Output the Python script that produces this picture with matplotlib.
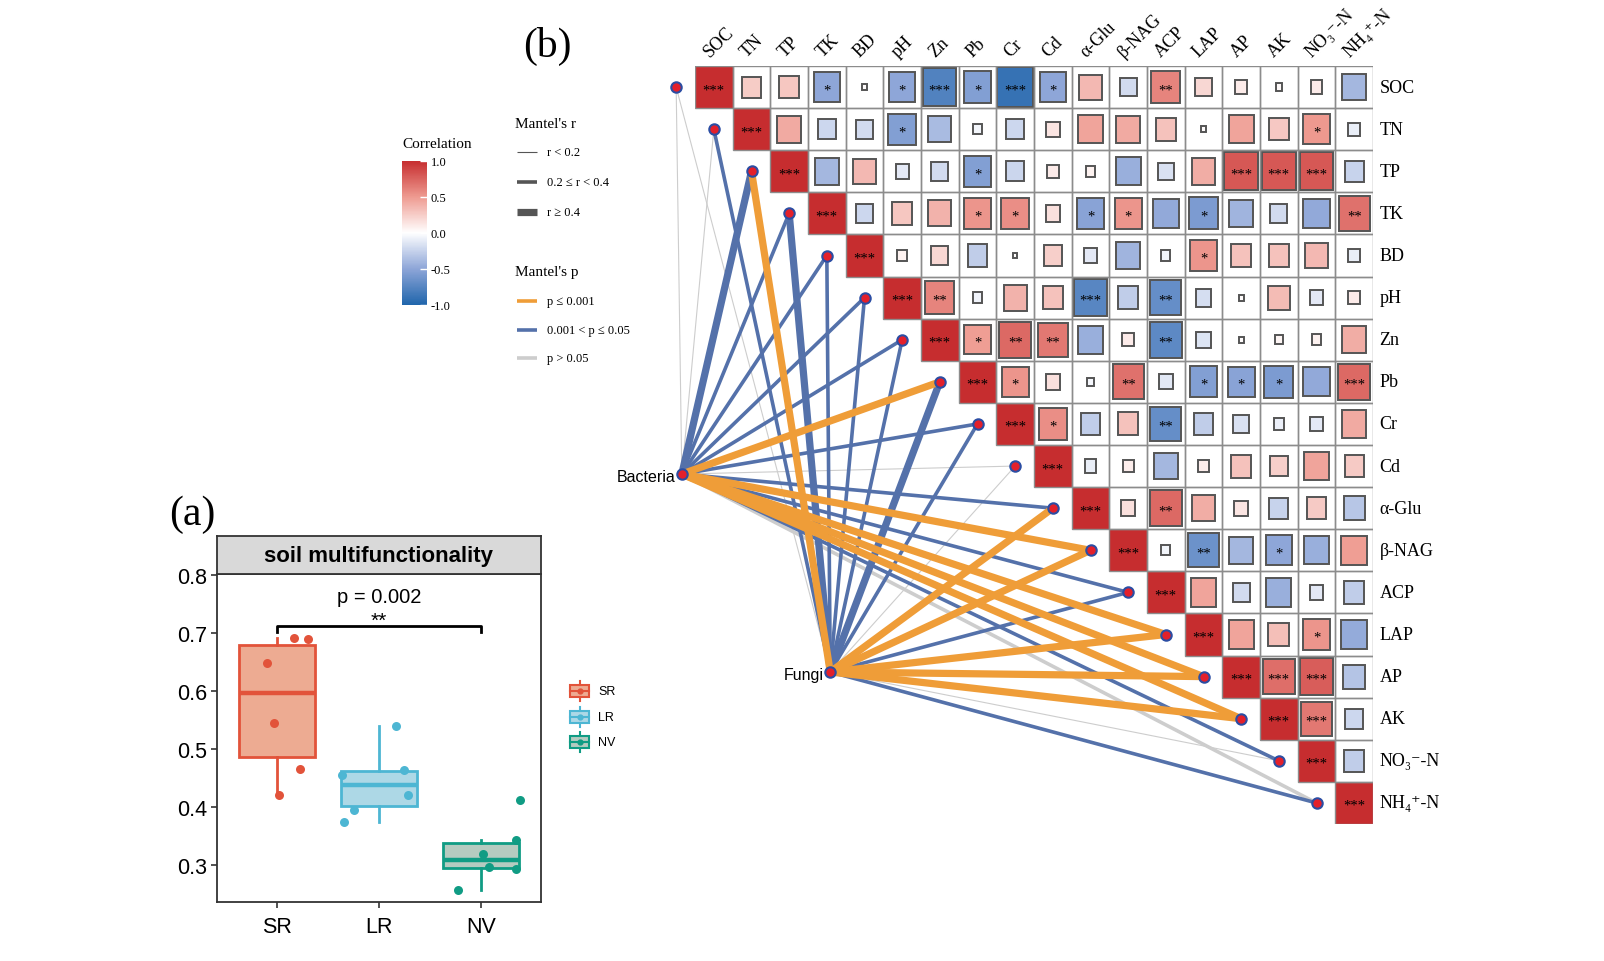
import numpy as np
import matplotlib.pyplot as plt
from matplotlib.patches import Rectangle
from matplotlib.colors import LinearSegmentedColormap, Normalize
from matplotlib.cm import ScalarMappable
from matplotlib.ticker import FormatStrFormatter

plt.rcParams['font.family'] = ['Liberation Serif', 'DejaVu Serif']
SANS = ['Liberation Sans', 'DejaVu Sans']

# ---------------- panel (a) data
groups = ['SR', 'LR', 'NV']
group_colors = ['#E2533A', '#4DB6D3', '#109C84']
group_fills = ['#EDAB92', '#ADD8E6', '#B5CBC0']
sr_vals = [0.648, 0.544, 0.691, 0.689, 0.466, 0.420]
lr_vals = [0.540, 0.455, 0.463, 0.421, 0.394, 0.374]
nv_vals = [0.412, 0.343, 0.318, 0.2965, 0.2925, 0.257]
# horizontal jitter of the points
sr_jit = [-0.10, -0.03, 0.17, 0.31, 0.23, 0.02]
lr_jit = [0.17, -0.36, 0.25, 0.29, -0.24, -0.34]
nv_jit = [0.38, 0.34, 0.02, 0.08, 0.34, -0.22]
p_label = 'p = 0.002'
sig_label = '**'

# ---------------- panel (b) data
variables = ['SOC', 'TN', 'TP', 'TK', 'BD', 'pH', 'Zn', 'Pb', 'Cr', 'Cd',
             'α-Glu', 'β-NAG', 'ACP', 'LAP', 'AP', 'AK', 'NO₃⁻-N', 'NH₄⁺-N']

# row i holds r of variable i with variables i+1 .. end
corr_rows = [
    [0.25, 0.28, -0.5, 0.02, -0.5, -0.78, -0.55, -0.9, -0.5, 0.35, -0.2, 0.6, 0.2, 0.1, 0.03, 0.1, -0.4],
    [0.42, -0.22, -0.2, -0.55, -0.38, -0.05, -0.22, 0.13, 0.45, 0.42, 0.3, 0.02, 0.45, 0.27, 0.5, -0.1],
    [-0.4, 0.35, -0.12, -0.2, -0.55, -0.23, 0.1, 0.07, -0.45, -0.17, 0.4, 0.8, 0.8, 0.8, -0.25],
    [-0.22, 0.28, 0.38, 0.52, 0.55, 0.15, -0.52, 0.52, -0.48, -0.58, -0.42, -0.2, -0.48, 0.68],
    [0.07, 0.2, -0.28, 0.01, 0.24, -0.12, -0.42, -0.06, 0.52, 0.3, 0.3, 0.35, -0.1],
    [0.6, -0.07, 0.38, 0.3, -0.75, -0.28, -0.68, -0.18, 0.02, 0.33, -0.12, 0.1],
    [0.48, 0.72, 0.65, -0.45, 0.1, -0.72, -0.15, 0.02, 0.05, 0.07, 0.4],
    [0.52, 0.15, -0.04, 0.68, -0.13, -0.55, -0.52, -0.58, -0.48, 0.72],
    [0.55, -0.28, 0.3, -0.68, -0.28, -0.17, -0.08, -0.12, 0.42],
    [-0.1, 0.09, -0.4, 0.09, 0.3, 0.24, 0.45, 0.26],
    [0.15, 0.72, 0.4, 0.13, -0.25, 0.26, -0.32],
    [-0.06, -0.65, -0.4, -0.5, -0.45, 0.48],
    [0.45, -0.2, -0.45, -0.12, -0.28],
    [0.45, 0.32, 0.52, -0.47],
    [0.7, 0.78, -0.33],
    [0.65, -0.22],
    [-0.28],
]
star_rows = [
    ['', '', '*', '', '*', '***', '*', '***', '*', '', '', '**', '', '', '', '', ''],
    ['', '', '', '*', '', '', '', '', '', '', '', '', '', '', '*', ''],
    ['', '', '', '', '*', '', '', '', '', '', '', '***', '***', '***', ''],
    ['', '', '', '*', '*', '', '*', '*', '', '*', '', '', '', '**'],
    ['', '', '', '', '', '', '', '', '*', '', '', '', ''],
    ['**', '', '', '', '***', '', '**', '', '', '', '', ''],
    ['*', '**', '**', '', '', '**', '', '', '', '', ''],
    ['*', '', '', '**', '', '*', '*', '*', '', '***'],
    ['*', '', '', '**', '', '', '', '', ''],
    ['', '', '', '', '', '', '', ''],
    ['', '**', '', '', '', '', ''],
    ['', '**', '', '*', '', ''],
    ['', '', '', '', ''],
    ['', '', '*', ''],
    ['***', '***', ''],
    ['***', ''],
    [''],
]

# Mantel test classes: r class 0 (<0.2), 1 (0.2-0.4), 2 (>=0.4)
#                      p class 0 (<=0.001), 1 (0.001-0.05), 2 (>0.05)
bact_r = [0, 0, 2, 1, 1, 1, 1, 2, 1, 0, 1, 2, 1, 2, 2, 2, 1, 1]
bact_p = [2, 2, 1, 1, 1, 1, 1, 0, 1, 2, 1, 0, 1, 0, 0, 0, 1, 2]
fungi_r = [0, 1, 2, 2, 1, 1, 1, 2, 1, 0, 2, 2, 1, 2, 2, 2, 0, 1]
fungi_p = [2, 1, 0, 1, 1, 1, 1, 1, 1, 2, 0, 0, 1, 0, 0, 0, 2, 1]
r_labels = ['r < 0.2', '0.2 ≤ r < 0.4', 'r ≥ 0.4']
p_labels = ['p ≤ 0.001', '0.001 < p ≤ 0.05', 'p > 0.05']

# styles
p_colors = ['#EF9D38', '#5471AA', '#CDCDCD']
r_widths = [0.8, 2.6, 5.2]
cmap = LinearSegmentedColormap.from_list(
    'rb', [(0, '#2166AC'), (0.25, '#8EA6D8'), (0.5, '#FFFFFF'), (0.75, '#EE9A90'), (1, '#C62D2F')])
norm = Normalize(-1, 1)

W, H = 1604, 962
fig = plt.figure(figsize=(16.04, 9.62), dpi=100)


def fig_box(x0, y0, x1, y1):
    return [x0 / W, 1 - y1 / H, (x1 - x0) / W, (y1 - y0) / H]


canvas = fig.add_axes([0, 0, 1, 1])
canvas.set_xlim(0, W)
canvas.set_ylim(H, 0)
canvas.axis('off')

# ================= panel (a)
ax_a = fig.add_axes(fig_box(216.7, 575, 541, 903.3))
data_a = [sr_vals, lr_vals, nv_vals]
jit_a = [sr_jit, lr_jit, nv_jit]
bp = ax_a.boxplot(data_a, positions=[1, 2, 3], widths=0.75, patch_artist=True,
                  showfliers=False, showcaps=False, whis=1.5)
for k, c in enumerate(group_colors):
    bp['boxes'][k].set(facecolor=group_fills[k], edgecolor=c, linewidth=2)
    bp['medians'][k].set(color=c, linewidth=3.2)
    for w in bp['whiskers'][2 * k:2 * k + 2]:
        w.set(color=c, linewidth=2)
    ax_a.scatter(np.array(jit_a[k]) + k + 1, data_a[k], s=42, color=c, zorder=3, linewidths=0)

ax_a.plot([1, 1, 3, 3], [0.702, 0.7125, 0.7125, 0.702], color='black', lw=2)
ax_a.text(2, 0.722, sig_label, ha='center', va='center', fontsize=15, family=SANS)
ax_a.text(2, 0.764, p_label, ha='center', va='center', fontsize=14.5, family=SANS)

ax_a.set_xlim(0.41, 3.59)
ax_a.set_ylim(0.235, 0.802)
ax_a.set_xticks([1, 2, 3])
ax_a.set_xticklabels(groups)
ax_a.set_yticks([0.3, 0.4, 0.5, 0.6, 0.7, 0.8])
ax_a.yaxis.set_major_formatter(FormatStrFormatter('%.1f'))
for lab in ax_a.get_xticklabels() + ax_a.get_yticklabels():
    lab.set_family(SANS)
    lab.set_fontsize(15.5)
ax_a.tick_params(length=4, width=1.2, color='#333333', pad=3)
ax_a.tick_params(axis='x', pad=6)
for sp in ax_a.spines.values():
    sp.set_color('#333333')
    sp.set_linewidth(1.3)

ax_s = fig.add_axes(fig_box(216.7, 537.3, 541, 575))
ax_s.set_facecolor('#D9D9D9')
ax_s.set_xticks([])
ax_s.set_yticks([])
for sp in ax_s.spines.values():
    sp.set_color('#333333')
    sp.set_linewidth(1.3)
ax_s.text(0.5, 0.5, 'soil multifunctionality', ha='center', va='center',
          fontsize=16, fontweight='bold', family=SANS, transform=ax_s.transAxes)

# legend of panel (a)
for k, (g, c) in enumerate(zip(groups, group_colors)):
    yc = 692 + 25.6 * k
    canvas.add_patch(Rectangle((570, yc - 6), 19, 12, facecolor=group_fills[k], edgecolor=c, lw=1.5))
    canvas.plot([579.5, 579.5], [yc - 10, yc - 6], color=c, lw=1.5)
    canvas.plot([579.5, 579.5], [yc + 6, yc + 10], color=c, lw=1.5)
    canvas.plot([570, 589], [yc, yc], color=c, lw=1.5)
    canvas.plot(579.5, yc, 'o', color=c, ms=3.5)
    canvas.text(598, yc, g, fontsize=9, family=SANS, va='center')

fig.text(192 / W, 1 - 515 / H, '(a)', fontsize=30, ha='center', va='center')

# ================= panel (b)
n = len(variables)
ax_b = fig.add_axes(fig_box(695, 67, 1373, 825))
ax_b.set_xlim(0, n)
ax_b.set_ylim(n, 0)
ax_b.axis('off')

for i in range(n):
    for j in range(i, n):
        if j == i:
            r, s = 1.0, '***'
        else:
            r, s = corr_rows[i][j - i - 1], star_rows[i][j - i - 1]
        side = np.sqrt(abs(r))
        ax_b.add_patch(Rectangle((j, i), 1, 1, facecolor='white', edgecolor='none', zorder=1))
        ax_b.add_patch(Rectangle((j + 0.5 - side / 2, i + 0.5 - side / 2), side, side,
                                 facecolor=cmap(norm(r)),
                                 edgecolor='#555555' if j > i else 'none', lw=1.4, zorder=2))
        ax_b.add_patch(Rectangle((j, i), 1, 1, facecolor='none', edgecolor='#8C8C8C', lw=1.0, zorder=2.5))
        if s:
            ax_b.text(j + 0.5, i + 0.56, s, ha='center', va='center', fontsize=10.5, zorder=3)

for j, v in enumerate(variables):
    ax_b.text(j + 0.38, -0.22, v, rotation=45, rotation_mode='anchor',
              ha='left', va='baseline', fontsize=13)
    ax_b.text(n + 0.17, j + 0.5, v, ha='left', va='center', fontsize=13)

# Mantel links
node_pos = {'Bacteria': (-0.35, 9.69), 'Fungi': (3.59, 14.39)}
link_sets = [(node_pos['Bacteria'], bact_r, bact_p), (node_pos['Fungi'], fungi_r, fungi_p)]
for pc in (2, 1, 0):
    for (nx, ny), rc, pcl in link_sets:
        for i in range(n):
            if pcl[i] != pc:
                continue
            ax_b.plot([nx, i - 0.5], [ny, i + 0.5], color=p_colors[pc], lw=r_widths[rc[i]],
                      solid_capstyle='butt', clip_on=False, zorder=4)

node_kw = dict(marker='o', ms=7.5, mfc='#E3202B', mec='#2B4DA3', mew=1.5,
               linestyle='none', clip_on=False, zorder=5)
for i in range(n):
    ax_b.plot(i - 0.5, i + 0.5, **node_kw)
for name, (nx, ny) in node_pos.items():
    ax_b.plot(nx, ny, **node_kw)
    ax_b.text(nx - 0.17, ny + 0.05, name, ha='right', va='center', fontsize=11.5, family=SANS, zorder=5)

fig.text(547 / W, 1 - 46 / H, '(b)', fontsize=30, ha='center', va='center')

# correlation colour bar
fig.text(402 / W, 1 - 145 / H, 'Correlation', fontsize=11, ha='left', va='center')
cax = fig.add_axes(fig_box(401.7, 161.7, 426.7, 305.7))
cb = fig.colorbar(ScalarMappable(norm=norm, cmap=cmap), cax=cax, ticks=[-1, -0.5, 0, 0.5, 1])
cb.outline.set_visible(False)
cb.ax.set_yticklabels(['-1.0', '-0.5', '0.0', '0.5', '1.0'], fontsize=9)
cb.ax.tick_params(length=5, color='white', direction='in', width=1, pad=3)

# Mantel legends
canvas.text(515, 125, "Mantel's r", fontsize=11, va='center')
for k, lab in enumerate(r_labels):
    y = 153 + 30 * k
    canvas.plot([517, 537], [y, y], color='#555555', lw=r_widths[k], solid_capstyle='butt')
    canvas.text(547, y, lab, fontsize=9, va='center')
canvas.text(515, 273, "Mantel's p", fontsize=11, va='center')
for k, lab in enumerate(p_labels):
    y = 302 + 28.6 * k
    canvas.plot([517, 537], [y, y], color=p_colors[k], lw=2.6, solid_capstyle='butt')
    canvas.text(547, y, lab, fontsize=9, va='center')

fig.savefig('out.png', dpi=100)
